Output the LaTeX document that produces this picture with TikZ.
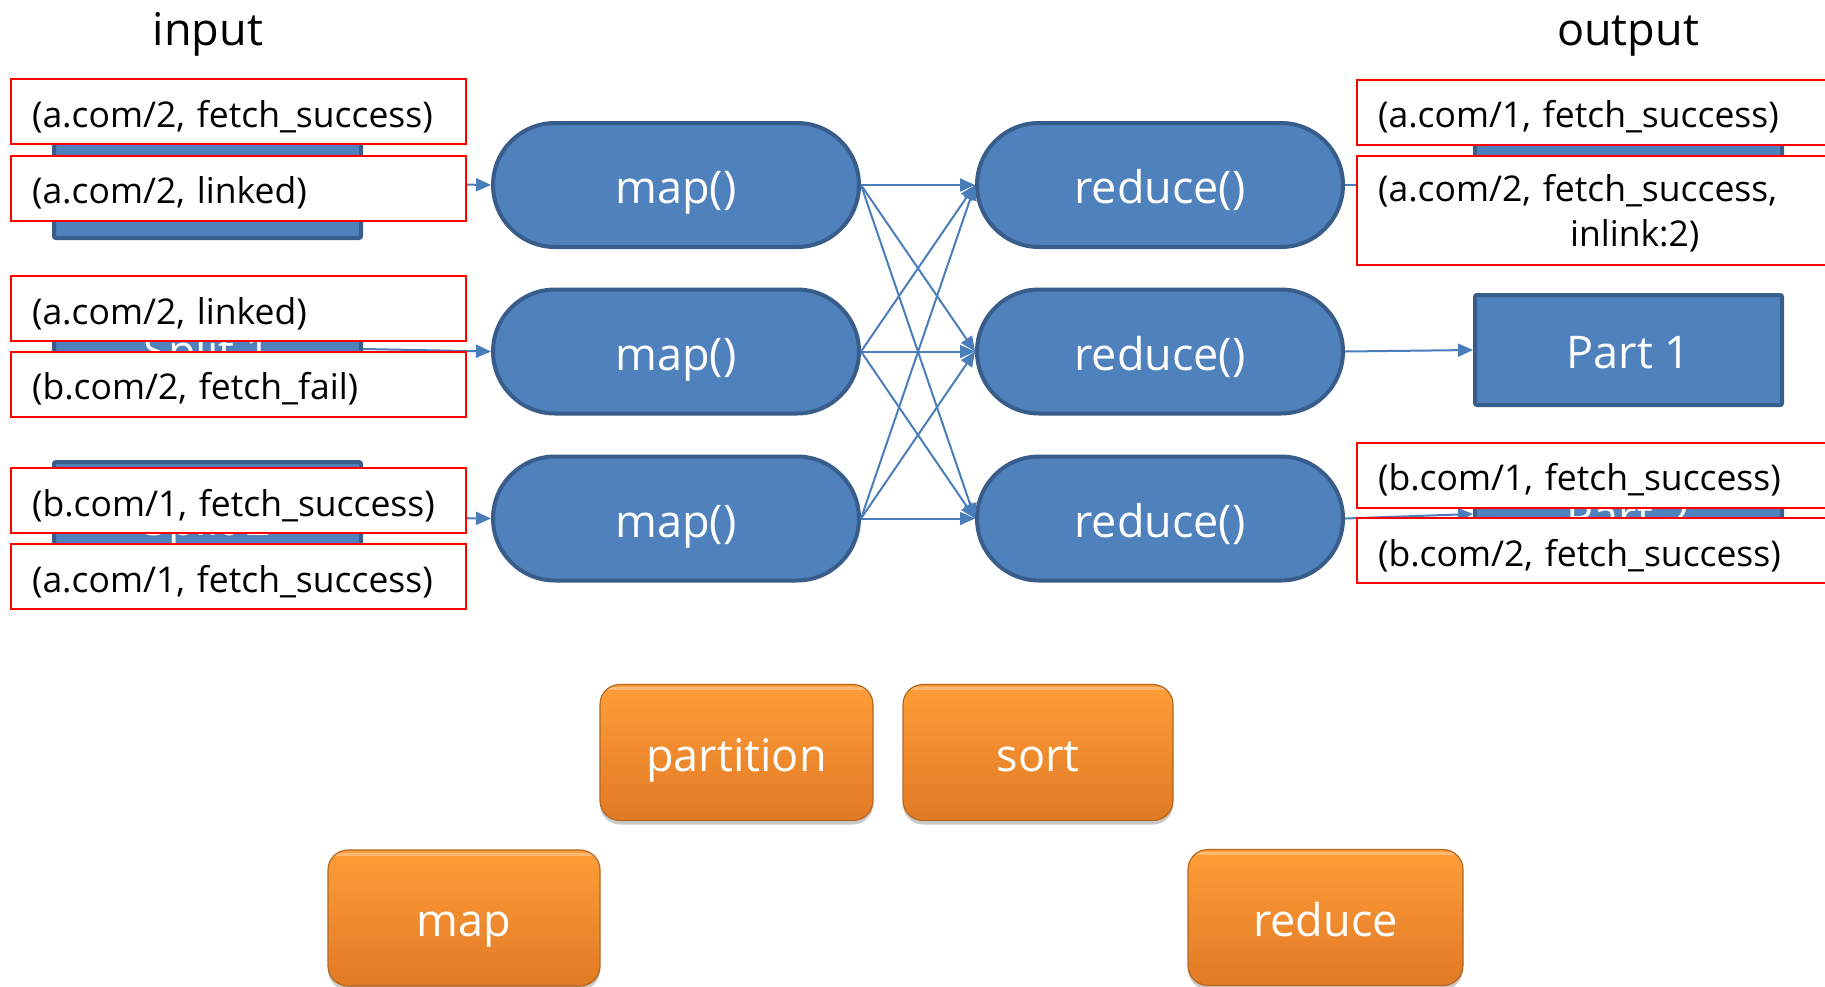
\documentclass[tikz,border=0pt]{standalone}
\usepackage{fontspec}
\setmainfont{Open Sans}
\usetikzlibrary{arrows.meta,shadows}

\definecolor{boxblue}{HTML}{4F81BD}
\definecolor{boxedge}{HTML}{385D8A}
\definecolor{linkblue}{HTML}{4A7EBB}
\definecolor{orangetop}{HTML}{FF9D38}
\definecolor{orangebot}{HTML}{E07A25}
\definecolor{orangeedge}{HTML}{B5661F}
\definecolor{tagred}{HTML}{FF0000}

\tikzset{
  bigfont/.style={font=\fontsize{45}{54}\selectfont, text height=47pt, text depth=10pt},
  tagfont/.style={font=\fontsize{35.5}{45}\selectfont, text height=39pt, text depth=8pt},
  blockbox/.style={rectangle, draw=boxedge, fill=boxblue, line width=4pt,
    rounded corners=2pt, minimum width=307pt, minimum height=110pt,
    inner sep=0pt, text=white, bigfont},
  stadium/.style={rectangle, draw=boxedge, fill=boxblue, line width=4pt,
    rounded corners=62pt, minimum width=366pt, minimum height=124pt,
    inner sep=0pt, text=white, bigfont},
  tagleft/.style={rectangle, draw=tagred, fill=white, line width=2pt,
    anchor=west, inner xsep=21pt, inner ysep=0pt, text width=413pt,
    align=left, minimum height=65pt, tagfont},
  tagright/.style={rectangle, draw=tagred, fill=white, line width=2pt,
    anchor=west, inner xsep=21pt, inner ysep=0pt, text width=442pt,
    align=left, minimum height=65pt, tagfont},
  phasebox/.style={rectangle, rounded corners=20pt, draw=orangeedge,
    line width=1.2pt, top color=orangetop, bottom color=orangebot,
    text=white, bigfont, inner sep=0pt, minimum height=136pt,
    drop shadow={shadow xshift=0pt, shadow yshift=-4pt, opacity=0.3, fill=black!70},
    path picture={\draw[line width=3pt, white, opacity=0.3]
      ([yshift=-4pt]path picture bounding box.north west) --
      ([yshift=-4pt]path picture bounding box.north east);}},
  link/.style={draw=linkblue, line width=2pt, -{Triangle[length=15pt,width=13pt]}},
  header/.style={font=\fontsize{45}{54}\selectfont, text=black, anchor=base, inner sep=0pt}
}

\begin{document}
\begin{tikzpicture}[x=1pt,y=-1pt]
\useasboundingbox (0,0) rectangle (1825,986);
\clip (0,0) rectangle (1825,986);

% column headers
\node[header] (hin) at (208,45) {input};
\node[header] (hout) at (1628,45) {output};

% input splits and output parts
\node[blockbox] (s0) at (207.5,183) {Split 0};
\node[blockbox] (s1) at (207.5,349) {Split 1};
\node[blockbox] (s2) at (207.5,517) {Split 2};
\node[blockbox] (p0) at (1628.5,185) {Part 0};
\node[blockbox] (p1) at (1628.5,350) {Part 1};
\node[blockbox] (p2) at (1628.5,514) {Part 2};

% map and reduce tasks
\node[stadium] (m1) at (676,185) {map()};
\node[stadium] (m2) at (676,351.5) {map()};
\node[stadium] (m3) at (676,518.5) {map()};
\node[stadium] (r1) at (1160,185) {reduce()};
\node[stadium] (r2) at (1160,351.5) {reduce()};
\node[stadium] (r3) at (1160,518.5) {reduce()};

% data flow
\draw[link] (s0.east) -- (m1.west);
\draw[link] (s1.east) -- (m2.west);
\draw[link] (s2.east) -- (m3.west);
\foreach \a in {m1,m2,m3}
  \foreach \b in {r1,r2,r3}
    \draw[link] (\a.east) -- (\b.west);
\draw[link] (r1.east) -- (p0.west);
\draw[link] (r2.east) -- (p1.west);
\draw[link] (r3.east) -- (p2.west);

% key/value records read by the maps
\node[tagleft] (l1) at (10,111.5) {(a.com/2, fetch\_success)};
\node[tagleft] (l2) at (10,188) {(a.com/2, linked)};
\node[tagleft] (l3) at (10,308.5) {(a.com/2, linked)};
\node[tagleft] (l4) at (10,384) {(b.com/2, fetch\_fail)};
\node[tagleft] (l5) at (10,500.5) {(b.com/1, fetch\_success)};
\node[tagleft] (l6) at (10,576.5) {(a.com/1, fetch\_success)};

% records written by the reducers
\node[tagright] (o1) at (1356,112) {(a.com/1, fetch\_success)};
\node[tagright, minimum height=109pt, text height=39pt, text depth=57pt] (o2) at (1356,210.5)
  {(a.com/2, fetch\_success,\\\hspace*{192pt}inlink:2)};
\node[tagright] (o3) at (1356,475) {(b.com/1, fetch\_success)};
\node[tagright] (o4) at (1356,550.5) {(b.com/2, fetch\_success)};

% phase labels
\node[phasebox, minimum width=273pt] (ph1) at (736.5,752.5) {partition};
\node[phasebox, minimum width=270pt] (ph2) at (1038,752.5) {sort};
\node[phasebox, minimum width=272pt] (ph3) at (464,918) {map};
\node[phasebox, minimum width=275pt] (ph4) at (1325.5,917.5) {reduce};
\end{tikzpicture}
\end{document}
